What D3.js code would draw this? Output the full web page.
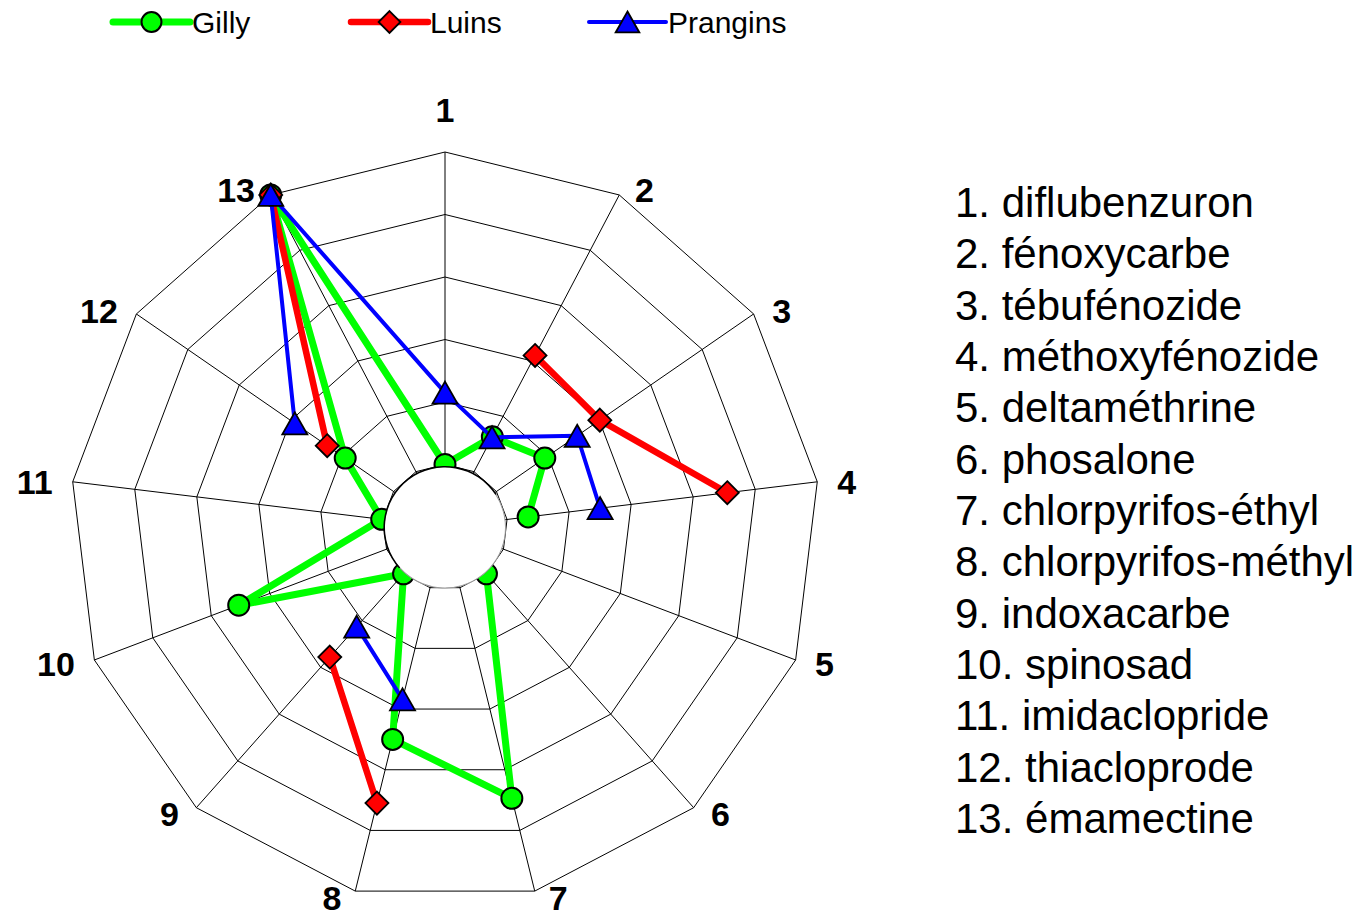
<!DOCTYPE html>
<html><head><meta charset="utf-8">
<script src="https://cdn.jsdelivr.net/npm/d3@7"></script>
<style>body{margin:0;background:#fff}svg{display:block}</style>
</head><body>
<svg id="chart" width="1364" height="917"></svg>
<script>
// ---------- data ----------
const axisLabels = ["1","2","3","4","5","6","7","8","9","10","11","12","13"];
const compounds = ["1. diflubenzuron","2. fénoxycarbe","3. tébufénozide","4. méthoxyfénozide",
  "5. deltaméthrine","6. phosalone","7. chlorpyrifos-éthyl","8. chlorpyrifos-méthyl",
  "9. indoxacarbe","10. spinosad","11. imidaclopride","12. thiacloprode","13. émamectine"];
const seriesNames = ["Gilly","Luins","Prangins"];
const gilly    = [1.0, 1.63, 1.94, 1.34, null, 1.0, 4.47, 3.5, 1.0, 3.53, 1.02, 1.94, 6];
const luins    = [null, 3.1, 3.01, 4.55, null, null, null, 4.55, 2.78, null, null, 2.29, 6];
const prangins = [2.15, 1.62, 2.57, 2.5, null, null, null, 2.84, 2.13, null, null, 2.92, 6];
const ringTicks = [1,2,3,4,5,6];
const seriesColors = ["#00ff00","#ff0000","#0000ff"];

// ---------- layout ----------
const svg = d3.select("#chart");
const cx = 445, cy = 527, R = 375;
const n = axisLabels.length;
const angle = d3.scaleLinear().domain([0, n]).range([0, 2*Math.PI]);
const rScale = d3.scaleLinear().domain([0, 6]).range([0, R]);
const pt = (i, v) => { const a = angle(i), r = rScale(v); return [cx + r*Math.sin(a), cy - r*Math.cos(a)]; };

const FONT = "'Liberation Sans', Arial, sans-serif";

// grid
const grid = svg.append("g").attr("fill","none").attr("stroke","#000").attr("stroke-width",1);
const ringLine = d3.line().curve(d3.curveLinearClosed);
ringTicks.forEach(t => {
  grid.append("path").attr("d", ringLine(d3.range(n).map(i => pt(i, t))));
});
d3.range(n).forEach(i => {
  const [x,y] = pt(i, 6);
  grid.append("line").attr("x1",cx).attr("y1",cy).attr("x2",x).attr("y2",y);
});

// markers
const circleSym = d3.symbolCircle;
const diamondSym = { draw(ctx, size){ const h = Math.sqrt(size)/2; ctx.moveTo(0,-h); ctx.lineTo(h,0); ctx.lineTo(0,h); ctx.lineTo(-h,0); ctx.closePath(); } };
const triSym = { draw(ctx, size){ const w = Math.sqrt(size), h = w*0.88; ctx.moveTo(0,-h/2); ctx.lineTo(w/2,h/2); ctx.lineTo(-w/2,h/2); ctx.closePath(); } };
const markers = [
  {type: circleSym, size: Math.PI*10.5*10.5, sw: 2},
  {type: diamondSym, size: 23*23, sw: 1.8},
  {type: triSym, size: 25*25, sw: 1.8}
];
const lineWidths = [7, 6.5, 4];

const allSeries = [gilly, luins, prangins];
allSeries.forEach((vals, s) => {
  const g = svg.append("g");
  const seq = d3.range(n+1).map(i => ({i: i % n, v: vals[i % n]}));
  const line = d3.line().defined(d => d.v != null).x(d => pt(d.i, d.v)[0]).y(d => pt(d.i, d.v)[1]);
  g.append("path").attr("d", line(seq)).attr("fill","none")
    .attr("stroke", seriesColors[s]).attr("stroke-width", lineWidths[s]).attr("stroke-linejoin","round");
  g.selectAll("path.m").data(vals.map((v,i)=>({i,v})).filter(d => d.v != null)).join("path")
    .attr("class","m")
    .attr("transform", d => `translate(${pt(d.i,d.v)[0]},${pt(d.i,d.v)[1]})`)
    .attr("d", d3.symbol(markers[s].type, markers[s].size))
    .attr("fill", seriesColors[s]).attr("stroke","#000").attr("stroke-width", markers[s].sw);
});

// white hub covering the centre
svg.append("circle").attr("cx",cx).attr("cy",cy+0.5).attr("r",60.5).attr("fill","#fff");
svg.append("path").attr("transform",`translate(${cx},${cy+0.5})`)
  .attr("d", d3.arc().innerRadius(60).outerRadius(61.6).startAngle(-2.3).endAngle(1.0)())
  .attr("fill","#000");
svg.append("path").attr("transform",`translate(${cx},${cy+0.5})`)
  .attr("d", d3.arc().innerRadius(60).outerRadius(61).startAngle(1.0).endAngle(2*Math.PI-2.3)())
  .attr("fill","#999");

// axis labels
svg.append("g").selectAll("text").data(axisLabels).join("text")
  .each(function(d, i){
    const a = angle(i), s = Math.sin(a), c = Math.cos(a);
    const [ex, ey] = pt(i, 6);
    const t = d3.select(this);
    if (Math.abs(s) < 0.01) {
      t.attr("x", ex).attr("y", ey - 42).attr("text-anchor","middle");
    } else {
      const gap = 12 + 8*Math.abs(s);
      t.attr("x", ex + Math.sign(s)*gap).attr("y", ey - 7*c + (c < -0.9 ? 0 : 1))
       .attr("text-anchor", s > 0 ? "start" : "end");
    }
  })
  .attr("dy","0.36em")
  .attr("font-family", FONT).attr("font-weight","bold").attr("font-size",34)
  .text(d => d);

// top legend
const leg = svg.append("g");
seriesNames.forEach((name, s) => {
  const x0 = 113 + s*238, y0 = 22, len = 77;
  leg.append("line").attr("x1",x0).attr("x2",x0+len).attr("y1",y0).attr("y2",y0)
    .attr("stroke",seriesColors[s]).attr("stroke-width",lineWidths[s]).attr("stroke-linecap","round");
  leg.append("path").attr("transform",`translate(${x0+len/2},${y0})`)
    .attr("d", d3.symbol(markers[s].type, markers[s].size*0.9))
    .attr("fill",seriesColors[s]).attr("stroke","#000").attr("stroke-width",markers[s].sw);
  leg.append("text").attr("x", x0+len+2).attr("y", y0).attr("dy","0.36em")
    .attr("font-family",FONT).attr("font-size",30).text(name);
});

// compound list
svg.append("g").selectAll("text").data(compounds).join("text")
  .attr("x", 955).attr("y", (d,i) => 202 + i*51.33).attr("dy","0.36em")
  .attr("font-family",FONT).attr("font-size",42).text(d => d);
</script>
</body></html>
